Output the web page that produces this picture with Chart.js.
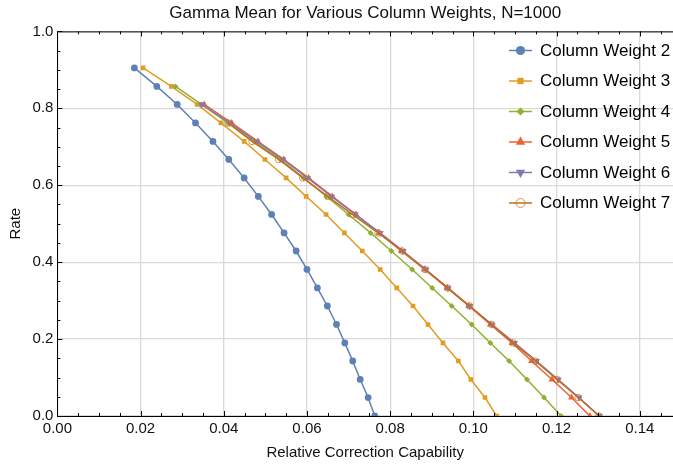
<!DOCTYPE html>
<html>
<head>
<meta charset="utf-8">
<script src="https://cdn.jsdelivr.net/npm/chart.js@4/dist/chart.umd.min.js"></script>
<style>
  html, body { margin: 0; padding: 0; background: #ffffff; }
  #c { display: block; }
</style>
</head>
<body>
<canvas id="c" width="673" height="465"></canvas>
<script>
// ---------- data ----------
const seriesNames = ['Column Weight 2', 'Column Weight 3', 'Column Weight 4',
                     'Column Weight 5', 'Column Weight 6', 'Column Weight 7'];

const capCW2 = [0.0185, 0.0239, 0.0288, 0.0332, 0.0374, 0.0412, 0.0449, 0.0483, 0.0515, 0.0545,
                0.0574, 0.0600, 0.0625, 0.0649, 0.0671, 0.0691, 0.0710, 0.0728, 0.0747, 0.0763];
const rateCW2 = [0.905, 0.857, 0.810, 0.762, 0.714, 0.667, 0.619, 0.571, 0.524, 0.476,
                 0.429, 0.381, 0.333, 0.286, 0.238, 0.190, 0.143, 0.095, 0.048, 0.000];

const capCW3 = [0.0206, 0.0274, 0.0336, 0.0393, 0.0449, 0.0499, 0.0550, 0.0598, 0.0646, 0.0690,
                0.0733, 0.0776, 0.0816, 0.0855, 0.0891, 0.0927, 0.0964, 0.0994, 0.1028, 0.1056];
const rateCW3 = [0.905, 0.857, 0.810, 0.762, 0.714, 0.667, 0.619, 0.571, 0.524, 0.476,
                 0.429, 0.381, 0.333, 0.286, 0.238, 0.190, 0.143, 0.095, 0.048, 0.000];

const capCW4 = [0.0284, 0.0346, 0.0410, 0.0473, 0.0536, 0.0592, 0.0647, 0.0700, 0.0753, 0.0803,
                0.0853, 0.0901, 0.0948, 0.0996, 0.1041, 0.1086, 0.1129, 0.1170, 0.1211];
const rateCW4 = [0.857, 0.810, 0.762, 0.714, 0.667, 0.619, 0.571, 0.524, 0.476,
                 0.429, 0.381, 0.333, 0.286, 0.238, 0.190, 0.143, 0.095, 0.048, 0.000];

const capCW5 = [0.0353, 0.0419, 0.0482, 0.0544, 0.0604, 0.0661, 0.0718, 0.0773, 0.0827,
                0.0883, 0.0937, 0.0989, 0.1041, 0.1093, 0.1140, 0.1189, 0.1236, 0.1280];
const rateCW5 = [0.810, 0.762, 0.714, 0.667, 0.619, 0.571, 0.524, 0.476,
                 0.429, 0.381, 0.333, 0.286, 0.238, 0.190, 0.143, 0.095, 0.048, 0.000];

const capCW6 = [0.0347, 0.0414, 0.0479, 0.0542, 0.0601, 0.0659, 0.0716, 0.0776, 0.0831,
                0.0886, 0.0939, 0.0991, 0.1045, 0.1099, 0.1152, 0.1204, 0.1254, 0.1303];
const rateCW6 = [0.810, 0.762, 0.714, 0.667, 0.619, 0.571, 0.524, 0.476,
                 0.429, 0.381, 0.333, 0.286, 0.238, 0.190, 0.143, 0.095, 0.048, 0.000];

const capCW7 = [0.0410, 0.0468, 0.0532, 0.0590, 0.0650, 0.0709, 0.0771, 0.0829,
                0.0884, 0.0938, 0.0991, 0.1044, 0.1096, 0.1149, 0.1201, 0.1252, 0.1302];
const rateCW7 = [0.762, 0.714, 0.667, 0.619, 0.571, 0.524, 0.476,
                 0.429, 0.381, 0.333, 0.286, 0.238, 0.190, 0.143, 0.095, 0.048, 0.000];

const xTickValues = [0.00, 0.02, 0.04, 0.06, 0.08, 0.10, 0.12, 0.14];
const yTickValues = [0.0, 0.2, 0.4, 0.6, 0.8, 1.0];

// ---------- styling ----------
const colors = ['#5E81B5', '#E19C24', '#8FB032', '#EB6235', '#8778B3', '#C56E1A'];
const FONT = '"Liberation Sans", Arial, Helvetica, sans-serif';

const caps = [capCW2, capCW3, capCW4, capCW5, capCW6, capCW7];
const rates = [rateCW2, rateCW3, rateCW4, rateCW5, rateCW6, rateCW7];
const markers = [
  { style: 'circle',   radius: 3.4, rotation: 0,   fill: true },
  { style: 'rect',     radius: 3.3, rotation: 0,   fill: true },
  { style: 'rectRot',  radius: 3.0, rotation: 0,   fill: true },
  { style: 'triangle', radius: 4.0, rotation: 0,   fill: true },
  { style: 'triangle', radius: 4.0, rotation: 180, fill: true },
  { style: 'circle',   radius: 3.3, rotation: 0,   fill: false }
];

const datasets = seriesNames.map((name, i) => ({
  label: name,
  data: caps[i].map((c, j) => ({ x: c, y: rates[i][j] })),
  borderColor: colors[i],
  borderWidth: 1.5,
  pointStyle: markers[i].style,
  pointRadius: markers[i].radius,
  pointRotation: markers[i].rotation,
  pointBackgroundColor: markers[i].fill ? colors[i] : 'rgba(255,255,255,0)',
  pointBorderColor: markers[i].fill ? colors[i] : 'rgba(197,110,26,0.75)',
  pointBorderWidth: markers[i].fill ? 0 : 1,
  fill: false,
  tension: 0,
  order: 6 - i
}));

// inward frame ticks + top frame
const frameTicks = {
  id: 'frameTicks',
  afterDatasetsDraw(chart) {
    const { ctx, chartArea: { left, right, top, bottom }, scales: { x, y } } = chart;
    ctx.save();
    ctx.strokeStyle = '#000';
    ctx.lineWidth = 1;
    ctx.beginPath();
    ctx.moveTo(left, top + 0.5); ctx.lineTo(right, top + 0.5);
    for (let k = 0; k <= 29; k++) {
      const v = k * 0.005;
      if (v > x.max + 1e-9) break;
      const px = Math.round(x.getPixelForValue(v)) + 0.5;
      const len = (k % 4 === 0) ? 5 : 3;
      ctx.moveTo(px, bottom); ctx.lineTo(px, bottom - len);
      ctx.moveTo(px, top); ctx.lineTo(px, top + len);
    }
    for (let k = 0; k <= 20; k++) {
      const v = k * 0.05;
      const py = Math.round(y.getPixelForValue(v)) + 0.5;
      const len = (k % 4 === 0) ? 5 : 3;
      ctx.moveTo(left, py); ctx.lineTo(left + len, py);
    }
    ctx.stroke();
    ctx.restore();
  }
};

// legend drawn inside plot area: line + marker + label
const insideLegend = {
  id: 'insideLegend',
  afterDraw(chart) {
    const ctx = chart.ctx;
    const y0 = 50.5, step = 30.5;
    chart.data.datasets.forEach((ds, i) => {
      const yy = y0 + i * step;
      ctx.save();
      ctx.strokeStyle = ds.borderColor;
      ctx.lineWidth = 1.5;
      ctx.beginPath();
      ctx.moveTo(509, yy); ctx.lineTo(532, yy);
      ctx.stroke();
      ctx.fillStyle = ds.pointBackgroundColor;
      ctx.strokeStyle = ds.pointBorderColor;
      ctx.lineWidth = ds.pointBorderWidth || 1;
      Chart.helpers.drawPoint(ctx, {
        pointStyle: ds.pointStyle,
        radius: ds.pointRadius * 1.35,
        rotation: ds.pointRotation || 0,
        borderWidth: ds.pointBorderWidth
      }, 520.5, yy);
      ctx.fillStyle = '#000';
      ctx.font = '17px ' + FONT;
      ctx.textAlign = 'left';
      ctx.textBaseline = 'middle';
      ctx.fillText(ds.label, 540, yy + 0.5);
      ctx.restore();
    });
  }
};

new Chart(document.getElementById('c'), {
  type: 'line',
  data: { datasets },
  plugins: [frameTicks, insideLegend],
  options: {
    responsive: false,
    animation: false,
    devicePixelRatio: 1,
    layout: { autoPadding: false, padding: { left: 0, right: 0, top: 0, bottom: 0 } },
    plugins: {
      legend: { display: false },
      tooltip: { enabled: false },
      title: {
        display: true,
        fullSize: false,
        text: 'Gamma Mean for Various Column Weights, N=1000',
        color: '#111',
        font: { family: FONT, size: 17, weight: 'normal' },
        padding: { top: 3, bottom: 8 }
      }
    },
    scales: {
      x: {
        type: 'linear',
        min: 0,
        max: 0.148,
        afterBuildTicks: s => { s.ticks = xTickValues.map(v => ({ value: v })); },
        ticks: {
          includeBounds: false,
          padding: 4,
          color: '#111',
          font: { family: FONT, size: 15 },
          callback: v => Number(v).toFixed(2),
          maxRotation: 0,
          autoSkip: false
        },
        grid: { color: '#d9d9d9', lineWidth: 1.3, drawTicks: false },
        border: { color: '#000', width: 1 },
        title: {
          display: true,
          text: 'Relative Correction Capability',
          color: '#111',
          font: { family: FONT, size: 15 },
          padding: { top: 0, bottom: 3 }
        },
        afterFit: s => { s.height = 49; }
      },
      y: {
        type: 'linear',
        min: 0,
        max: 1,
        afterBuildTicks: s => { s.ticks = yTickValues.map(v => ({ value: v })); },
        ticks: {
          padding: 4,
          color: '#111',
          font: { family: FONT, size: 15 },
          callback: v => Number(v).toFixed(1),
          autoSkip: false
        },
        grid: { color: '#d9d9d9', lineWidth: 1.3, drawTicks: false },
        border: { color: '#000', width: 1 },
        title: {
          display: true,
          text: 'Rate',
          color: '#111',
          font: { family: FONT, size: 15 },
          padding: { top: 7, bottom: 0 }
        },
        afterFit: s => { s.width = 57.4; }
      }
    }
  }
});
</script>
</body>
</html>
